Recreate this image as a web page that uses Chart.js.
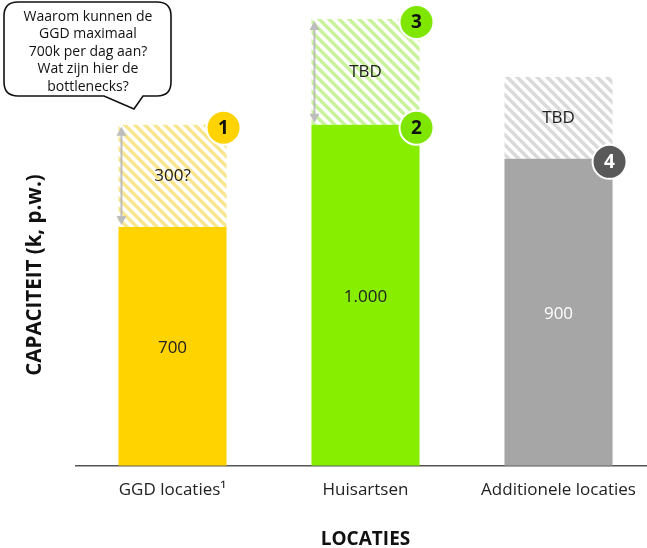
<!DOCTYPE html>
<html>
<head>
<meta charset="utf-8">
<script src="https://cdn.jsdelivr.net/npm/chart.js@4"></script>
<style>
  html, body { margin: 0; padding: 0; background: #fff; overflow: hidden; }
  #wrap { width: 655px; height: 548px; position: relative; }
</style>
</head>
<body>
<div id="wrap"><canvas id="chart"></canvas></div>
<script>
// data
var categories = ['GGD locaties¹', 'Huisartsen', 'Additionele locaties'];
var capacity = [700, 1000, 900];
var extraCapacity = [300, 310, 240];
var capacityLabels = ['700', '1.000', '900'];
var extraLabels = ['300?', 'TBD', 'TBD'];
var bubbleLines = ['Waarom kunnen de', 'GGD maximaal', '700k per dag aan?', 'Wat zijn hier de', 'bottlenecks?'];

var solidColors = ['#FFD300', '#88EE00', '#A6A6A6'];
var stripeColors = ['#F8E68F', '#C9F39B', '#DADADA'];
var FONT = '"Open Sans", "Noto Sans", sans-serif';

// badges: [category index, dataset index, number, fill, text colour]
var badges = [
    [0, 1, '1', '#FFD300', '#111'],
    [1, 0, '2', '#7FE600', '#111'],
    [1, 1, '3', '#7FE600', '#111'],
    [2, 0, '4', '#595959', '#fff']
];

function makeStripes(color) {
    var s = 10;
    var c = document.createElement('canvas');
    c.width = s; c.height = s;
    var g = c.getContext('2d');
    g.strokeStyle = color;
    g.lineWidth = 3.5;
    g.beginPath();
    for (var x = -s; x <= s; x += s) {
        g.moveTo(x - 1, -1);
        g.lineTo(x + s + 1, s + 1);
    }
    g.stroke();
    return document.getElementById('chart').getContext('2d').createPattern(c, 'repeat');
}

function drawArrow(ctx, x, y1, y2) {
    ctx.save();
    ctx.strokeStyle = '#BDBDBD';
    ctx.fillStyle = '#BDBDBD';
    ctx.lineWidth = 2;
    ctx.beginPath();
    ctx.moveTo(x, y1 + 6);
    ctx.lineTo(x, y2 - 6);
    ctx.stroke();
    ctx.beginPath();
    ctx.moveTo(x, y1); ctx.lineTo(x - 5, y1 + 9); ctx.lineTo(x + 5, y1 + 9); ctx.closePath();
    ctx.moveTo(x, y2); ctx.lineTo(x - 5, y2 - 9); ctx.lineTo(x + 5, y2 - 9); ctx.closePath();
    ctx.fill();
    ctx.restore();
}

var overlayPlugin = {
    id: 'overlay',
    afterDatasetsDraw: function (chart) {
        var ctx = chart.ctx;
        var solid = chart.getDatasetMeta(0).data;
        var extra = chart.getDatasetMeta(1).data;
        ctx.save();
        ctx.textAlign = 'center';
        ctx.textBaseline = 'middle';
        ctx.font = '17px ' + FONT;

        solid.forEach(function (bar, i) {
            ctx.fillStyle = i === 2 ? '#ffffff' : '#222';
            ctx.fillText(capacityLabels[i], bar.x, (bar.y + bar.base) / 2 + 2);
        });
        extra.forEach(function (bar, i) {
            ctx.fillStyle = '#222';
            ctx.fillText(extraLabels[i], bar.x, (bar.y + bar.base) / 2);
        });

        // double arrows on the first two hatched parts
        [0, 1].forEach(function (i) {
            var bar = extra[i];
            drawArrow(ctx, bar.x - bar.width / 2 + 3, bar.y + 2, bar.base - 2);
        });

        // numbered badges
        badges.forEach(function (b) {
            var bar = chart.getDatasetMeta(b[1]).data[b[0]];
            var cx = bar.x + bar.width / 2 - 3;
            var cy = bar.y + 3;
            ctx.beginPath();
            ctx.arc(cx, cy, 17, 0, Math.PI * 2);
            ctx.fillStyle = b[3];
            ctx.fill();
            ctx.lineWidth = 2;
            ctx.strokeStyle = '#ffffff';
            ctx.stroke();
            ctx.fillStyle = b[4];
            ctx.font = 'bold 19px ' + FONT;
            ctx.fillText(b[2], cx, cy + 1);
        });

        // speech bubble
        ctx.beginPath();
        var x0 = 4, y0 = 2, x1 = 171, y1 = 96, r = 14;
        ctx.moveTo(x0 + r, y0);
        ctx.lineTo(x1 - r, y0);
        ctx.quadraticCurveTo(x1, y0, x1, y0 + r);
        ctx.lineTo(x1, y1 - r);
        ctx.quadraticCurveTo(x1, y1, x1 - r, y1);
        ctx.lineTo(143, y1);
        ctx.lineTo(134, 109);
        ctx.lineTo(104, y1);
        ctx.lineTo(x0 + r, y1);
        ctx.quadraticCurveTo(x0, y1, x0, y1 - r);
        ctx.lineTo(x0, y0 + r);
        ctx.quadraticCurveTo(x0, y0, x0 + r, y0);
        ctx.closePath();
        ctx.fillStyle = '#fff';
        ctx.fill();
        ctx.lineWidth = 1.6;
        ctx.strokeStyle = '#111';
        ctx.stroke();
        ctx.fillStyle = '#111';
        ctx.font = '14px ' + FONT;
        bubbleLines.forEach(function (line, i) {
            ctx.fillText(line, 88, 17 + i * 17.5);
        });

        // y axis title
        ctx.translate(35, 275);
        ctx.rotate(-Math.PI / 2);
        ctx.font = 'bold 20.5px ' + FONT;
        ctx.fillStyle = '#111';
        ctx.fillText('CAPACITEIT (k, p.w.)', 0, 0);
        ctx.restore();
    }
};

var ctx = document.getElementById('chart').getContext('2d');
new Chart(ctx, {
    type: 'bar',
    data: {
        labels: categories,
        datasets: [{
            label: 'Capaciteit',
            data: capacity,
            backgroundColor: solidColors,
            borderWidth: 0
        }, {
            label: 'Extra',
            data: extraCapacity,
            backgroundColor: stripeColors.map(makeStripes),
            borderWidth: 0
        }]
    },
    options: {
        responsive: true,
        maintainAspectRatio: false,
        animation: false,
        layout: { padding: { left: 76, top: 2, right: 0, bottom: 0 } },
        datasets: { bar: { categoryPercentage: 0.56, barPercentage: 1 } },
        plugins: { legend: { display: false }, tooltip: { enabled: false } },
        scales: {
            x: {
                stacked: true,
                grid: { display: false },
                border: { display: true, color: '#555', width: 1.5 },
                ticks: { color: '#222', font: { family: FONT, size: 17 }, padding: 6 },
                title: {
                    display: true,
                    text: 'LOCATIES',
                    color: '#111',
                    font: { family: FONT, size: 19, weight: 'bold' },
                    padding: { top: 22, bottom: -3 }
                }
            },
            y: {
                stacked: true,
                display: false,
                min: 0,
                max: 1360
            }
        }
    },
    plugins: [overlayPlugin]
});
</script>
</body>
</html>
